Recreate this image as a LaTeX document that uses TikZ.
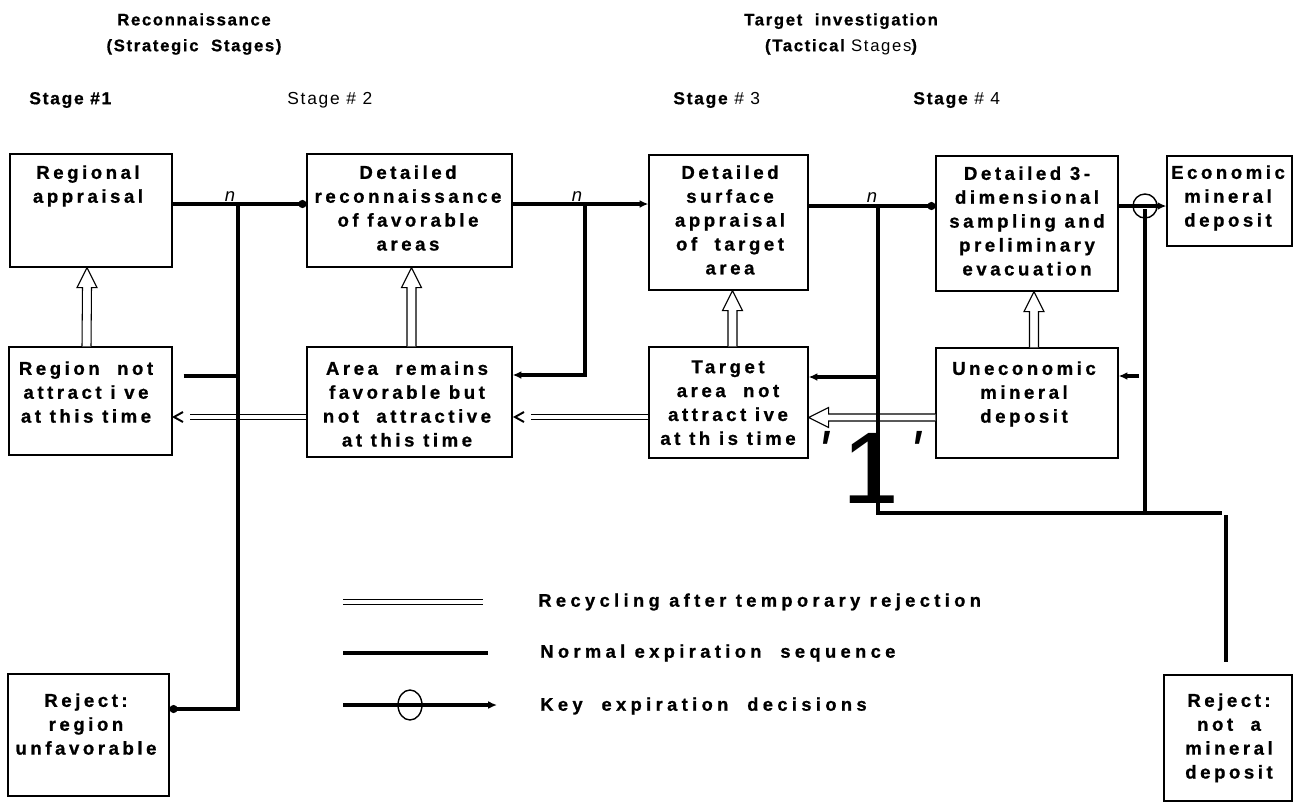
\documentclass[tikz,border=0pt]{standalone}
\usepackage{fontspec}
\setmainfont{Liberation Sans}
\newfontfamily\bx{Liberation Sans}[LetterSpace=19, BoldFeatures={FakeBold=0.9}]
\newfontfamily\hd{Liberation Sans}[LetterSpace=10, BoldFeatures={FakeBold=0.9}]
\newfontfamily\lgf{Liberation Sans}[LetterSpace=24, BoldFeatures={FakeBold=0.9}]
\usetikzlibrary{arrows.meta,fit,calc}
\newcommand\hollowup[3]{%
  \draw[hollow] ($(#1)+(#3-4.5,0)$) -- ($(#2)+(#3-4.5,20)$) -- ($(#2)+(#3-10,20)$) -- ($(#2)+(#3,0)$) -- ($(#2)+(#3+10,20)$) -- ($(#2)+(#3+4.5,20)$) -- ($(#1)+(#3+4.5,0)$);}
\begin{document}
\begin{tikzpicture}[x=0.02cm,y=-0.02cm,
  box/.style={draw, line width=0.7pt, inner sep=0pt},
  t/.style={align=center, anchor=north, inner sep=0pt, font=\bx\bfseries\fontsize{10.6}{13.6}\selectfont},
  hdr/.style={align=center, inner sep=0pt, font=\hd\bfseries\fontsize{9.5}{14.7}\selectfont},
  stg/.style={anchor=west, inner sep=0pt, font=\hd\bfseries\fontsize{9.9}{12}\selectfont},
  lg/.style={anchor=west, inner sep=0pt, font=\lgf\bfseries\fontsize{10.4}{12}\selectfont},
  heavy/.style={line width=2.1pt},
  vline/.style={line width=1.8pt},
  dotend/.style={-{Circle[length=4.5pt]}},
  tipend/.style={-{Latex[length=5pt,width=4.5pt]}},
  dbl/.style={double, double distance=2.4pt, line width=0.6pt},
  chev/.style={line width=1.1pt},
  hollow/.style={line width=0.6pt, fill=white},
  nlab/.style={font=\itshape\fontsize{10.5}{12}\selectfont, inner sep=0pt, anchor=south}
]
\useasboundingbox (0,0) rectangle (1294,802);

% headers
\node[hdr] (h1) at (194,34) {Reconnaissance\\(Strategic\ \ Stages)};
\node[hdr] (h2) at (841,34) {Target\ \ investigation\\(Tactical {\mdseries Stages})};
\node[stg] (s1) at (29,100) {Stage \#1};
\node[stg] (s2) at (287,100) {\mdseries Stage \# 2};
\node[stg] (s3) at (673,100) {Stage {\mdseries\# 3}};
\node[stg] (s4) at (913,100) {Stage {\mdseries\# 4}};

% boxes
\node[box, fit={(10,154) (172,267)}] (ra) {};
\node[box, fit={(9,347) (172,455)}] (rn) {};
\node[box, fit={(307,154) (512,267)}] (dr) {};
\node[box, fit={(307,347) (512,457)}] (ar) {};
\node[box, fit={(649,155) (808,290)}] (ds) {};
\node[box, fit={(649,347) (808,458)}] (ta) {};
\node[box, fit={(936,156) (1118,291)}] (d3) {};
\node[box, fit={(936,348) (1118,458)}] (ue) {};
\node[box, fit={(1167,156) (1292,246)}] (ec) {};
\node[box, fit={(8,674) (169,796)}] (rr) {};
\node[box, fit={(1164,675) (1292,801)}] (nm) {};

% box texts
\node[t] (ra-t) at (88,165) {Regional\\appraisal};
\node[t] (rn-t) at (86,361) {Region\ \ not\\attract i ve\\at this time};
\node[t] (dr-t) at (408,165) {Detailed\\reconnaissance\\of favorable\\areas};
\node[t] (ar-t) at (407,361) {Area\ \ remains\\favorable but\\not\ \ attractive\\at this time};
\node[t] (ds-t) at (730,165) {Detailed\\surface\\appraisal\\of\ \ target\\area};
\node[t] (ta-t) at (728,360) {Target\\area\ \ not\\attract ive\\at th is time};
\node[t] (d3-t) at (1027,166) {Detailed 3-\\dimensional\\sampling and\\preliminary\\evacuation};
\node[t] (ue-t) at (1024,361) {Uneconomic\\mineral\\deposit};
\node[t] (ec-t) at (1228,165) {Economic\\mineral\\deposit};
\node[t] (rr-t) at (86,693) {Reject:\\region\\unfavorable};
\node[t] (nm-t) at (1229,693) {Reject:\\not\ \ a\\mineral\\deposit};

% recycling double lines
\coordinate (c1) at (190,417);
\draw[dbl] (ar.west |- c1) -- (c1);
\draw[chev] ($(c1)+(-7,-5)$) -- ($(c1)+(-16,0)$) -- ($(c1)+(-7,5)$);
\coordinate (c2) at (531,417);
\draw[dbl] (ta.west |- c2) -- (c2);
\draw[chev] ($(c2)+(-7,-5)$) -- ($(c2)+(-16,0)$) -- ($(c2)+(-7,5)$);
\coordinate (c3) at (936,417.5);
\draw[hollow] ($(ue.west |- c3)+(0,-3.5)$) -- ($(ta.east |- c3)+(20,-3.5)$) -- ($(ta.east |- c3)+(20,-10)$) -- (ta.east |- c3) -- ($(ta.east |- c3)+(20,10)$) -- ($(ta.east |- c3)+(20,3.5)$) -- ($(ue.west |- c3)+(0,3.5)$);

% hollow upward arrows
\hollowup{rn.north}{ra.south}{-4}
\hollowup{ar.north}{dr.south}{2}
\hollowup{ta.north}{ds.south}{4}
\hollowup{ue.north}{d3.south}{7}

% stage 1 -> 2
\coordinate (j1) at (238,204);
\coordinate (j1b) at (238,709);
\coordinate (j1s) at (236,376);
\draw[heavy, dotend] (ra.east |- j1) -- (dr.west |- j1);
\node[nlab] (n1) at (230,202) {n};
\draw[vline, dotend] (j1) -- (j1b) -- (rr.east |- j1b);
\draw[heavy] ($(rn.east |- j1s)+(11,0)$) -- (j1s);

% stage 2 -> 3
\coordinate (j2) at (585,204);
\coordinate (j2b) at (585,375);
\draw[heavy, tipend] (dr.east |- j2) -- (ds.west |- j2);
\node[nlab] (n2) at (577,202) {n};
\draw[vline, tipend] (j2) -- (j2b) -- (ar.east |- j2b);

% stage 3 -> 4
\coordinate (j3) at (878,206);
\coordinate (j3s) at (878,377);
\coordinate (j3b) at (878,513);
\coordinate (j5) at (1222,513);
\coordinate (j5b) at (1226,515);
\draw[heavy, dotend] (ds.east |- j3) -- (d3.west |- j3);
\node[nlab] (n3) at (872,203) {n};
\draw[vline] (j3) -- (j3b) -- (j5);
\draw[heavy, tipend] (j3s) -- (ta.east |- j3s);
\draw[vline] (j5b) -- ($(nm.north -| j5b)+(0,-12)$);

% stage 4 -> economic
\coordinate (kc) at (1145,206);
\coordinate (j4) at (1145,209);
\coordinate (j4s) at (1145,376);
\coordinate (j4b) at (1145,513);
\draw[heavy, tipend] (d3.east |- kc) -- (ec.west |- kc);
\draw[line width=0.8pt] (kc) circle[radius=12];
\draw[vline] (j4) -- (j4b);
\draw[heavy, tipend] ($(j4s)+(-6,0)$) -- (ue.east |- j4s);

% stray marks
\node[inner sep=0pt, font=\fontsize{58}{58}\selectfont] (one) at (871,468) {1};
\node[inner sep=0pt, font=\itshape\fontsize{34}{34}\selectfont] (p1) at (823,452) {\textquotesingle};
\node[inner sep=0pt, font=\itshape\fontsize{34}{34}\selectfont] (p2) at (915,452) {\textquotesingle};

% legend
\coordinate (l1a) at (343,602); \coordinate (l1b) at (483,602);
\draw[dbl] (l1a) -- (l1b);
\node[lg] (l1t) at (538,602) {Recycling after temporary rejection};
\coordinate (l2a) at (343,653); \coordinate (l2b) at (488,653);
\draw[heavy] (l2a) -- (l2b);
\node[lg] (l2t) at (540,653) {Normal expiration\ \ sequence};
\coordinate (l3a) at (343,705); \coordinate (l3b) at (497,705);
\draw[heavy, tipend] (l3a) -- (l3b);
\draw[line width=0.8pt] (410,705) ellipse[x radius=12, y radius=15];
\node[lg] (l3t) at (540,706) {Key\ \ expiration\ \ decisions};
\end{tikzpicture}
\end{document}
